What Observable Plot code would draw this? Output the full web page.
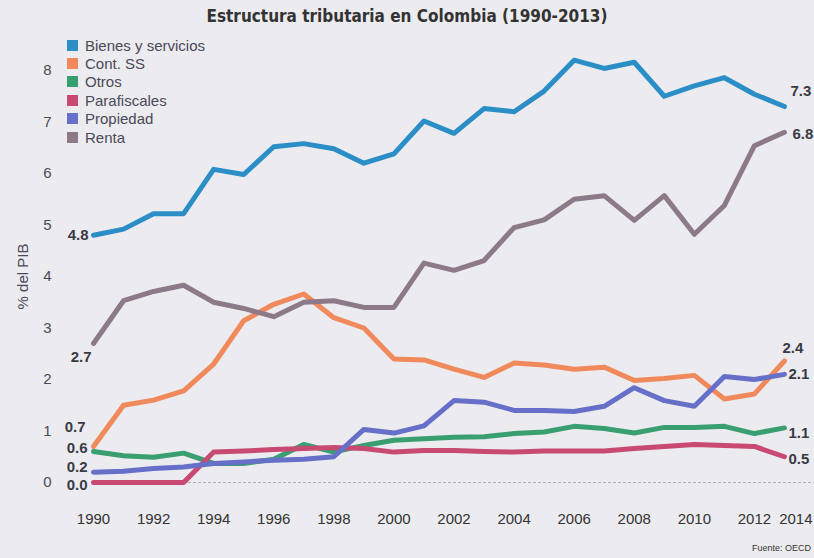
<!DOCTYPE html>
<html><head><meta charset="utf-8">
<script src="https://cdn.jsdelivr.net/npm/d3@7"></script>
<script src="https://cdn.jsdelivr.net/npm/@observablehq/plot@0.6"></script>
<style>
html,body{margin:0;padding:0;background:#ecebf0;}
#wrap{position:relative;width:814px;height:558px;overflow:hidden;background:#ecebf0;font-family:"Liberation Sans",Arial,sans-serif;}
#title{position:absolute;top:6px;left:0;width:814px;text-align:center;font-family:"DejaVu Sans Condensed","DejaVu Sans",sans-serif;font-weight:bold;font-size:17px;color:#333;}
#legend{position:absolute;left:67px;top:36px;}
.row{height:18.4px;display:flex;align-items:center;font-size:15px;color:#4a4a58;}
.sw{width:11px;height:11px;margin-right:7px;}
#caption{position:absolute;left:752px;top:543px;font-size:9px;color:#333;white-space:nowrap;}
#chart{position:absolute;left:0;top:0;}
</style></head>
<body><div id="wrap"><div id="chart"></div><div id="title"></div><div id="legend"></div><div id="caption"></div></div>
<script>
const titleText = "Estructura tributaria en Colombia (1990-2013)";
const captionText = "Fuente: OECD";
const yLabel = "% del PIB";
const years = [1990,1991,1992,1993,1994,1995,1996,1997,1998,1999,2000,2001,2002,2003,2004,2005,2006,2007,2008,2009,2010,2011,2012,2013];
const seriesNames = ["Bienes y servicios","Cont. SS","Otros","Parafiscales","Propiedad","Renta"];
const seriesColors = ["#2b8ec6","#f08a5c","#3a9f70","#c84a72","#6670c8","#8c7a88"];
const bienes = [4.8,4.92,5.22,5.22,6.08,5.98,6.52,6.58,6.48,6.2,6.38,7.02,6.78,7.26,7.2,7.6,8.2,8.04,8.16,7.5,7.7,7.86,7.54,7.3];
const contSS = [0.7,1.5,1.6,1.78,2.3,3.14,3.46,3.66,3.2,3.0,2.4,2.38,2.2,2.04,2.32,2.28,2.2,2.24,1.98,2.02,2.08,1.62,1.72,2.36];
const otros = [0.6,0.52,0.49,0.57,0.37,0.37,0.45,0.74,0.59,0.72,0.82,0.85,0.88,0.89,0.95,0.98,1.09,1.05,0.96,1.07,1.07,1.09,0.95,1.06];
const parafiscales = [0,0,0,0,0.59,0.61,0.64,0.66,0.68,0.66,0.59,0.62,0.62,0.6,0.59,0.61,0.61,0.61,0.66,0.7,0.74,0.72,0.7,0.5];
const propiedad = [0.2,0.22,0.27,0.3,0.37,0.4,0.43,0.45,0.5,1.03,0.96,1.1,1.59,1.56,1.4,1.4,1.38,1.48,1.84,1.59,1.48,2.06,2.0,2.1];
const renta = [2.7,3.53,3.71,3.83,3.5,3.38,3.22,3.5,3.53,3.4,3.4,4.26,4.12,4.31,4.95,5.1,5.5,5.57,5.09,5.57,4.82,5.38,6.54,6.8];
const yTicks = [0,1,2,3,4,5,6,7,8];
const xTicks = [1990,1992,1994,1996,1998,2000,2002,2004,2006,2008,2010,2012];
const xLastTick = [2014];

const allValues = [bienes,contSS,otros,parafiscales,propiedad,renta];
const data = [];
seriesNames.forEach((s,i)=>years.forEach((y,j)=>data.push({serie:s,year:y,value:allValues[i][j]})));

// label offsets (style only)
const startOff = {"Bienes y servicios":[-5,0],"Cont. SS":[-8,-19],"Otros":[-6,-3],"Parafiscales":[-6,3],"Propiedad":[-6,-5],"Renta":[-2,14]};
const endOff = {"Bienes y servicios":[6,-15],"Cont. SS":[-2,-13],"Otros":[4,5],"Parafiscales":[4,2],"Propiedad":[4,0],"Renta":[8,2]};
const firsts = data.filter(d=>d.year===years[0]);
const lasts = data.filter(d=>d.year===years[years.length-1]);

const labelMarks = [];
for (const d of firsts) labelMarks.push(Plot.text([d],{x:"year",y:"value",text:d=>d.value.toFixed(1),textAnchor:"end",dx:startOff[d.serie][0],dy:startOff[d.serie][1],fontSize:15,fontWeight:"bold",fill:"#3a3a44"}));
for (const d of lasts) labelMarks.push(Plot.text([d],{x:"year",y:"value",text:d=>d.value.toFixed(1),textAnchor:"start",dx:endOff[d.serie][0],dy:endOff[d.serie][1],fontSize:15,fontWeight:"bold",fill:"#3a3a44"}));

const chart = Plot.plot({
  width:814, height:558,
  marginLeft:93, marginRight:0, marginTop:70, marginBottom:76,
  style:{background:"transparent",fontFamily:"Liberation Sans, Arial, sans-serif"},
  x:{domain:[1990,2014]},
  y:{domain:[0,8]},
  color:{domain:seriesNames,range:seriesColors},
  marks:[
    Plot.ruleY([0],{stroke:"#888",strokeOpacity:0.6,strokeDasharray:"3,2"}),
    Plot.axisY(yTicks,{tickSize:0,tickPadding:42,fontSize:15,fill:"#4a4a58",tickFormat:d=>String(d),label:yLabel,labelAnchor:"center",labelArrow:"none",labelOffset:76}),
    Plot.axisX(xTicks,{tickSize:0,tickPadding:31,fontSize:15,fill:"#333",tickFormat:d=>String(d),label:null}),
    Plot.axisX(xLastTick,{tickSize:0,tickPadding:31,fontSize:15,fill:"#333",tickFormat:d=>String(d),textAnchor:"end",dx:-2,label:null}),
    Plot.line(data,{x:"year",y:"value",z:"serie",stroke:"serie",strokeWidth:5,strokeLinejoin:"round",strokeLinecap:"round"}),
    ...labelMarks
  ]
});
document.getElementById("chart").appendChild(chart);
document.getElementById("title").textContent = titleText;
document.getElementById("caption").textContent = captionText;
const lg = d3.select("#legend");
seriesNames.forEach((s,i)=>{
  const r = lg.append("div").attr("class","row");
  r.append("div").attr("class","sw").style("background",seriesColors[i]);
  r.append("span").text(s);
});
</script></body></html>
